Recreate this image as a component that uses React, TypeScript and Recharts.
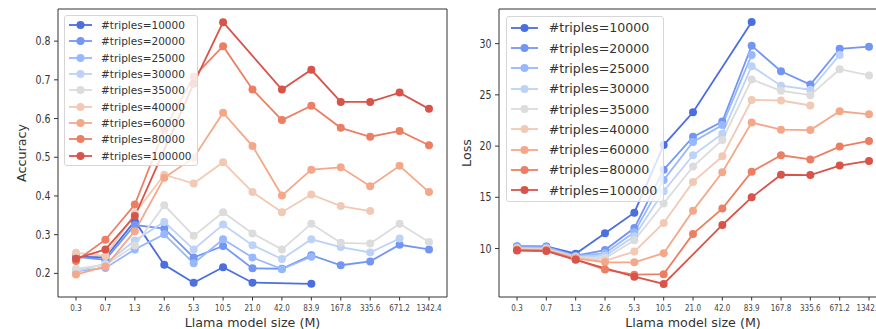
import React from "react";
import { Legend, Line, LineChart, XAxis, YAxis } from "recharts";

const SIZES = ["0.3", "0.7", "1.3", "2.6", "5.3", "10.5", "21.0", "42.0", "83.9", "167.8", "335.6", "671.2", "1342.4"];
const TRIPLES = [10000, 20000, 25000, 30000, 35000, 40000, 60000, 80000, 100000];
const COLORS = ["#4b6ee0", "#7396f5", "#97b8ff", "#bcd2f7", "#dcdcdc", "#f2c9b4", "#f5a889", "#ec7f63", "#d8544a"];

// accuracy per model size, one array per #triples
const ACC_10000 = [0.243, 0.241, 0.335, 0.222, 0.176, 0.216, 0.176, null, 0.173, null, null, null, null];
const ACC_20000 = [0.243, 0.235, 0.325, 0.316, 0.241, 0.271, 0.213, 0.212, 0.247, 0.221, 0.231, 0.274, 0.262];
const ACC_25000 = [0.205, 0.214, 0.262, 0.301, 0.226, 0.288, 0.241, 0.211, 0.243, null, null, null, null];
const ACC_30000 = [0.205, 0.225, 0.285, 0.333, 0.262, 0.326, 0.273, 0.237, 0.288, 0.268, 0.254, 0.29, null];
const ACC_35000 = [0.212, 0.222, 0.272, 0.376, 0.297, 0.358, 0.303, 0.262, 0.328, 0.279, 0.277, 0.328, 0.281];
const ACC_40000 = [0.253, 0.245, 0.355, 0.455, 0.432, 0.487, 0.41, 0.358, 0.404, 0.374, 0.361, null, null];
const ACC_60000 = [0.197, 0.218, 0.309, 0.447, 0.499, 0.615, 0.529, 0.401, 0.468, 0.474, 0.425, 0.478, 0.41];
const ACC_80000 = [0.232, 0.287, 0.378, 0.571, 0.708, 0.787, 0.675, 0.596, 0.633, 0.576, 0.553, 0.568, 0.531];
const ACC_100000 = [0.238, 0.262, 0.348, null, 0.69, 0.849, null, 0.675, 0.726, 0.643, 0.643, 0.667, 0.625];

// loss per model size
const LOSS_10000 = [10.2, 10.2, 9.5, 11.5, 13.5, 20.1, 23.3, null, 32.1, null, null, null, null];
const LOSS_20000 = [10.2, 10.15, 9.3, 9.85, 12.0, 17.7, 20.9, 22.4, 29.8, 27.3, 26.0, 29.5, 29.7];
const LOSS_25000 = [10.1, 10.1, 9.25, 9.55, 11.6, 16.7, 20.4, 22.05, 28.9, null, null, null, null];
const LOSS_30000 = [10.05, 10.0, 9.2, 9.3, 11.2, 15.6, 19.1, 21.2, 27.8, 25.9, 25.5, 28.9, null];
const LOSS_35000 = [10.0, 9.95, 9.15, 9.05, 10.8, 14.4, 18.0, 20.6, 26.5, 25.4, 24.97, 27.5, 26.9];
const LOSS_40000 = [9.95, 9.9, 9.1, 8.8, 9.7, 12.5, 16.5, 19.0, 24.5, 24.45, 23.96, null, null];
const LOSS_60000 = [9.9, 9.85, 9.05, 8.65, 8.65, 9.55, 13.7, 17.44, 22.3, 21.6, 21.56, 23.4, 23.1];
const LOSS_80000 = [9.85, 9.8, 8.95, 7.95, 7.45, 7.5, 11.43, 13.9, 17.5, 19.1, 18.7, 19.95, 20.5];
const LOSS_100000 = [9.8, 9.75, 8.9, null, 7.25, 6.55, null, 12.3, 15.0, 17.2, 17.17, 18.1, 18.55];

const ACC_TICKS = [0.2, 0.3, 0.4, 0.5, 0.6, 0.7, 0.8];
const LOSS_TICKS = [10, 15, 20, 25, 30];

const FONT = "'DejaVu Sans', sans-serif";
const AXIS_COLOR = "#333";

function buildRows(series: (number | null)[][]) {
  return SIZES.map((size, i) => {
    const row: Record<string, string | number | null> = { size };
    TRIPLES.forEach((t, k) => {
      row[`t${t}`] = series[k][i];
    });
    return row;
  });
}

const accRows = buildRows([ACC_10000, ACC_20000, ACC_25000, ACC_30000, ACC_35000, ACC_40000, ACC_60000, ACC_80000, ACC_100000]);
const lossRows = buildRows([LOSS_10000, LOSS_20000, LOSS_25000, LOSS_30000, LOSS_35000, LOSS_40000, LOSS_60000, LOSS_80000, LOSS_100000]);

// tick labels in the figure are narrower than the rest of the text
function XTick({ x, y, payload }: any) {
  return (
    <text
      x={x}
      y={y}
      dy="0.71em"
      textAnchor="middle"
      fontSize={9}
      fill="#444"
      transform={`translate(${x},0) scale(0.8,1) translate(${-x},0)`}
    >
      {payload.value}
    </text>
  );
}

function YTick({ x, y, payload }: any) {
  return (
    <text
      x={x}
      y={y}
      dy="0.355em"
      textAnchor="end"
      fontSize={11.5}
      fill="#333"
      transform={`translate(${x},0) scale(0.82,1) translate(${-x},0)`}
    >
      {payload.value}
    </text>
  );
}

interface LegendLook {
  left: number;
  top: number;
  width: number;
  fontSize: number;
  rowHeight: number;
  handleWidth: number;
  gap: number;
}

function LegendBox({ look }: { look: LegendLook }) {
  const mid = look.handleWidth / 2;
  return (
    <div
      style={{
        background: "rgba(255,255,255,0.8)",
        border: "1px solid #d6d6d6",
        borderRadius: 3,
        padding: "1px 0 1px 4px",
        fontFamily: FONT,
        fontSize: look.fontSize,
        color: "#333",
        boxSizing: "border-box",
        width: look.width,
      }}
    >
      {TRIPLES.map((t, i) => (
        <div key={t} style={{ display: "flex", alignItems: "center", height: look.rowHeight }}>
          <svg width={look.handleWidth} height={10} style={{ flex: "none" }}>
            <line x1={0} y1={5} x2={look.handleWidth} y2={5} stroke={COLORS[i]} strokeWidth={1.8} />
            <circle cx={mid} cy={5} r={4} fill={COLORS[i]} />
          </svg>
          <span style={{ marginLeft: look.gap, whiteSpace: "nowrap" }}>#triples={t}</span>
        </div>
      ))}
    </div>
  );
}

function Panel({
  rows,
  width,
  marginRight,
  domain,
  ticks,
  yLabel,
  labelOffset,
  legend,
}: {
  rows: Record<string, string | number | null>[];
  width: number;
  marginRight: number;
  domain: [number, number];
  ticks: number[];
  yLabel: string;
  labelOffset: number;
  legend: LegendLook;
}) {
  return (
    <LineChart width={width} height={329} data={rows} margin={{ top: 8, right: marginRight, bottom: 0, left: 0 }}>
      <XAxis
        dataKey="size"
        interval={0}
        padding={{ left: 18, right: 18 }}
        height={32}
        tickSize={3.5}
        tickMargin={4}
        tick={<XTick />}
        tickLine={{ stroke: AXIS_COLOR }}
        axisLine={{ stroke: AXIS_COLOR }}
        label={{ value: "Llama model size (M)", position: "insideBottom", offset: 2, fill: "#333", fontSize: 12.7 }}
      />
      {/* top and right spines */}
      <XAxis xAxisId="top" dataKey="size" orientation="top" height={1} tick={false} tickLine={false} axisLine={{ stroke: AXIS_COLOR }} />
      <YAxis
        type="number"
        domain={domain}
        ticks={ticks}
        allowDataOverflow
        width={58}
        tickSize={4}
        tickMargin={3.5}
        tick={<YTick />}
        tickLine={{ stroke: AXIS_COLOR }}
        axisLine={{ stroke: AXIS_COLOR }}
        label={{ value: yLabel, angle: -90, position: "insideLeft", offset: labelOffset, fill: "#333", fontSize: 12.7, style: { textAnchor: "middle" } }}
      />
      <YAxis yAxisId="right" orientation="right" type="number" domain={[0, 1]} width={1} tick={false} tickLine={false} axisLine={{ stroke: AXIS_COLOR }} />
      <Legend
        layout="vertical"
        align="center"
        verticalAlign="middle"
        wrapperStyle={{ left: legend.left, top: legend.top, width: legend.width, height: "auto" }}
        content={() => <LegendBox look={legend} />}
      />
      {TRIPLES.map((t, i) => (
        <Line
          key={t}
          dataKey={`t${t}`}
          name={`#triples=${t}`}
          stroke={COLORS[i]}
          strokeWidth={1.8}
          dot={{ r: 4, fill: COLORS[i], stroke: COLORS[i], strokeWidth: 0 }}
          activeDot={false}
          connectNulls
          isAnimationActive={false}
        />
      ))}
    </LineChart>
  );
}

export default function App() {
  return (
    <div
      style={{
        position: "absolute",
        left: 0,
        top: 0,
        width: 876,
        height: 329,
        overflow: "hidden",
        background: "#fff",
        fontFamily: FONT,
      }}
    >
      <div style={{ position: "absolute", left: 0, top: 0 }}>
        <Panel
          rows={accRows}
          width={460}
          marginRight={12}
          domain={[0.139, 0.883]}
          ticks={ACC_TICKS}
          yLabel="Accuracy"
          labelOffset={21}
          legend={{ left: 64, top: 15, width: 134, fontSize: 10.5, rowHeight: 16.3, handleWidth: 23, gap: 9 }}
        />
      </div>
      <div style={{ position: "absolute", left: 441, top: 0 }}>
        <Panel
          rows={lossRows}
          width={447}
          marginRight={0}
          domain={[5.27, 33.38]}
          ticks={LOSS_TICKS}
          yLabel="Loss"
          labelOffset={25}
          legend={{ left: 64.7, top: 15.7, width: 158, fontSize: 12.6, rowHeight: 20.3, handleWidth: 27, gap: 11 }}
        />
      </div>
    </div>
  );
}
